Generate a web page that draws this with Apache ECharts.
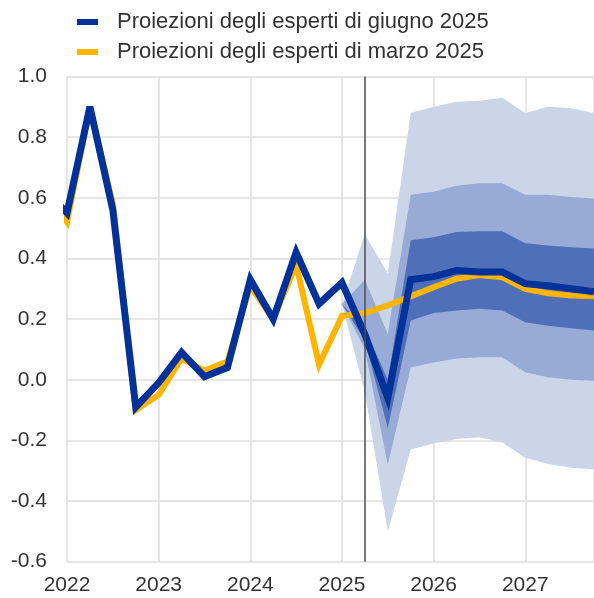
<!DOCTYPE html>
<html>
<head>
<meta charset="utf-8">
<style>
  html, body { margin: 0; padding: 0; background: #fff; }
  #chart { width: 594px; height: 598px; }
</style>
<script src="https://cdn.jsdelivr.net/npm/echarts@6/dist/echarts.min.js"></script>
</head>
<body>
<div id="chart"></div>
<script>
// Quarters of the two projection lines (2021Q4 is drawn but clipped at the left edge)
const quarters = [
  '2021Q4',
  '2022Q1', '2022Q2', '2022Q3', '2022Q4',
  '2023Q1', '2023Q2', '2023Q3', '2023Q4',
  '2024Q1', '2024Q2', '2024Q3', '2024Q4',
  '2025Q1', '2025Q2', '2025Q3', '2025Q4',
  '2026Q1', '2026Q2', '2026Q3', '2026Q4',
  '2027Q1', '2027Q2', '2027Q3', '2027Q4'
]
const june2025 = [
  0.63,
  0.55, 0.90, 0.56, -0.09,
  -0.01, 0.09, 0.01, 0.04,
  0.33, 0.20, 0.42, 0.25,
  0.32, 0.15, -0.06, 0.33,
  0.34, 0.36, 0.355, 0.355,
  0.317, 0.31, 0.30, 0.29
]
const march2025 = [
  0.62,
  0.52, 0.90, 0.58, -0.10,
  -0.05, 0.07, 0.03, 0.06,
  0.31, 0.20, 0.38, 0.05,
  0.21, 0.22, 0.245, 0.275,
  0.305, 0.333, 0.345, 0.338,
  0.30, 0.285, 0.278, 0.275
]

// Uncertainty ranges around the June 2025 projections
const fanQuarters = [
  '2025Q1', '2025Q2', '2025Q3', '2025Q4',
  '2026Q1', '2026Q2', '2026Q3', '2026Q4',
  '2027Q1', '2027Q2', '2027Q3', '2027Q4'
]
const outerUpper = [0.25, 0.48, 0.35, 0.88, 0.90, 0.917, 0.92, 0.93, 0.88, 0.90, 0.895, 0.88]
const middleUpper = [0.25, 0.33, 0.15, 0.61, 0.62, 0.64, 0.648, 0.648, 0.61, 0.61, 0.603, 0.598]
const innerUpper = [0.25, 0.17, 0.00, 0.46, 0.47, 0.487, 0.49, 0.49, 0.45, 0.443, 0.437, 0.433]
const innerLower = [0.25, 0.13, -0.16, 0.195, 0.22, 0.228, 0.234, 0.228, 0.19, 0.178, 0.17, 0.162]
const middleLower = [0.25, 0.10, -0.28, 0.04, 0.057, 0.07, 0.074, 0.074, 0.025, 0.008, 0.0, -0.003]
const outerLower = [0.25, -0.04, -0.50, -0.23, -0.21, -0.195, -0.19, -0.207, -0.257, -0.278, -0.29, -0.295]

const cutoffQuarter = '2025Q2'
const yTicks = [-0.6, -0.4, -0.2, 0.0, 0.2, 0.4, 0.6, 0.8, 1.0]

const toYear = (q) => Number(q.slice(0, 4)) + (Number(q.slice(5)) - 1) / 4

const BLUE = '#003299'
const YELLOW = '#ffb400'

const bands = [
  { lower: outerLower, upper: outerUpper, color: '#cbd5e8' },
  { lower: middleLower, upper: middleUpper, color: '#98aad6' },
  { lower: innerLower, upper: innerUpper, color: '#4f6fb8' }
]

const chart = echarts.init(document.getElementById('chart'), null, { renderer: 'canvas' })

const renderBands = (params, api) => {
  const children = bands.map((band) => {
    const points = []
    fanQuarters.forEach((q, i) => points.push(api.coord([toYear(q), band.upper[i]])))
    for (let i = fanQuarters.length - 1; i >= 0; i--) {
      points.push(api.coord([toYear(fanQuarters[i]), band.lower[i]]))
    }
    return { type: 'polygon', shape: { points }, style: { fill: band.color } }
  })
  return { type: 'group', children }
}

const option = {
  backgroundColor: '#ffffff',
  animation: false,
  textStyle: { fontFamily: 'Liberation Sans, Arial, sans-serif' },
  legend: {
    orient: 'vertical',
    left: 72,
    top: 6,
    itemGap: 8,
    itemWidth: 21,
    itemHeight: 6,
    icon: 'rect',
    selectedMode: false,
    data: ['Proiezioni degli esperti di giugno 2025', 'Proiezioni degli esperti di marzo 2025'],
    textStyle: {
      fontSize: 22,
      lineHeight: 22,
      color: '#333333',
      padding: [0, 0, 0, 14]
    }
  },
  grid: { left: 67, right: 0, top: 76.5, bottom: 36.3 },
  xAxis: {
    type: 'value',
    min: 2022,
    max: toYear(quarters[quarters.length - 1]),
    interval: 1,
    axisLine: { show: false },
    axisTick: { show: false },
    axisLabel: {
      fontSize: 21,
      color: '#333333',
      margin: 13,
      showMaxLabel: false,
      formatter: (v) => (Number.isInteger(v) ? String(v) : '')
    },
    splitLine: { show: true, lineStyle: { color: '#dedede', width: 1.5 } }
  },
  yAxis: {
    type: 'value',
    min: yTicks[0],
    max: yTicks[yTicks.length - 1],
    interval: 0.2,
    axisLine: { show: false },
    axisTick: { show: false },
    axisLabel: {
      fontSize: 21,
      color: '#333333',
      margin: 20,
      formatter: (v) => v.toFixed(1)
    },
    splitLine: { show: true, lineStyle: { color: '#dedede', width: 1.5 } }
  },
  series: [
    {
      name: 'bande',
      type: 'custom',
      z: 1,
      silent: true,
      renderItem: renderBands,
      data: [[toYear(fanQuarters[0]), fanQuarters.length]]
    },
    {
      name: 'cutoff',
      type: 'line',
      z: 2,
      data: [],
      markLine: {
        silent: true,
        symbol: 'none',
        label: { show: false },
        lineStyle: { color: '#4d4d4d', width: 1.5, type: 'solid' },
        data: [{ xAxis: toYear(cutoffQuarter) }]
      }
    },
    {
      name: 'Proiezioni degli esperti di marzo 2025',
      type: 'line',
      z: 3,
      showSymbol: false,
      clip: true,
      color: YELLOW,
      lineStyle: { width: 6, color: YELLOW, join: 'miter', miterLimit: 4 },
      data: quarters.map((q, i) => [toYear(q), march2025[i]])
    },
    {
      name: 'Proiezioni degli esperti di giugno 2025',
      type: 'line',
      z: 4,
      showSymbol: false,
      clip: true,
      color: BLUE,
      lineStyle: { width: 7, color: BLUE, join: 'miter', miterLimit: 4 },
      data: quarters.map((q, i) => [toYear(q), june2025[i]])
    }
  ]
}

chart.setOption(option)
window.addEventListener('resize', () => chart.resize())
</script>
</body>
</html>
